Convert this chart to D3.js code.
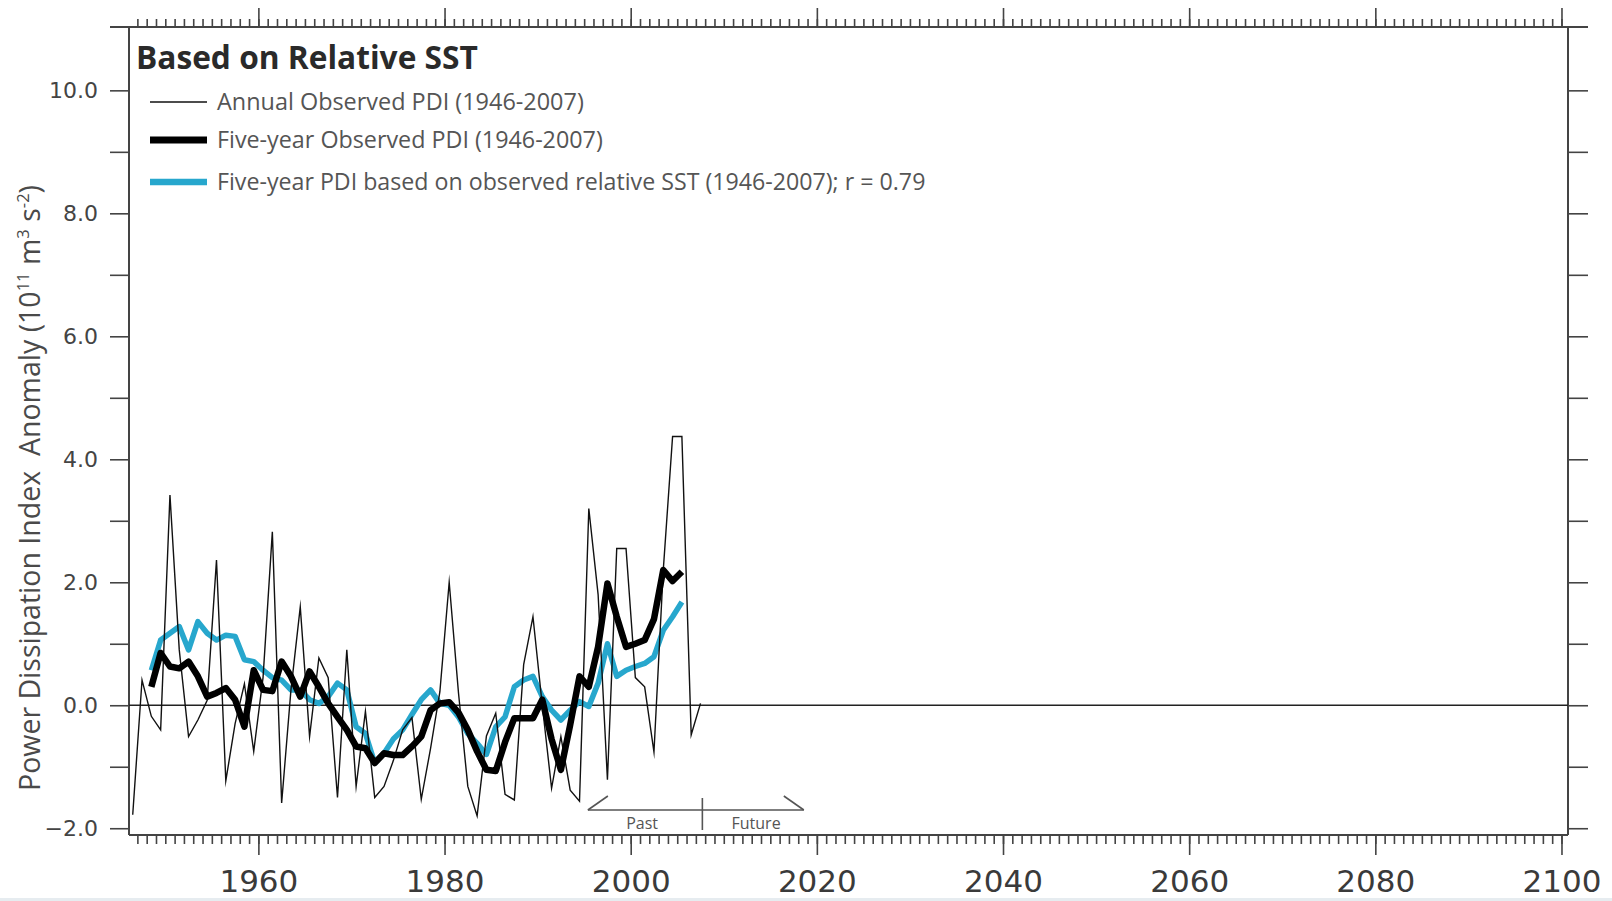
<!DOCTYPE html>
<html>
<head>
<meta charset="utf-8">
<script src="https://cdn.jsdelivr.net/npm/d3@7"></script>
<style>
body { margin: 0; background: #fff; }
svg { display: block; }
</style>
</head>
<body>
<div id="chart"></div>
<script>
// Annual observed PDI anomaly (10^11 m3 s-2), 1946-2007
var annualYears = d3.range(1946, 2008);
var annualPDI = [
    -1.78, 0.41, -0.18, -0.40, 3.42, 0.90, -0.51, -0.24, 0.08, 2.36,
    -1.23, -0.30, 0.35, -0.75, 0.45, 2.82, -1.59, 0.25, 1.60, -0.51,
    0.77, 0.45, -1.50, 0.90, -1.32, -0.10, -1.50, -1.32, -0.90, -0.40,
    -0.20, -1.53, -0.70, 0.22, 2.00, 0.20, -1.32, -1.80, -0.50, -0.13,
    -1.45, -1.54, 0.66, 1.44, 0.00, -1.35, -0.51, -1.38, -1.56, 3.20,
    1.80, -1.21, 2.55, 2.55, 0.45, 0.30, -0.76, 2.20, 4.37, 4.37,
    -0.48, 0.03
];

// Five-year curves, 1948-2005
var smoothYears = d3.range(1948, 2006);
var fiveYearPDI = [
    0.30, 0.85, 0.63, 0.60, 0.71, 0.47, 0.14, 0.20, 0.28, 0.09,
    -0.35, 0.57, 0.25, 0.23, 0.71, 0.47, 0.14, 0.55, 0.30, 0.03,
    -0.19, -0.40, -0.67, -0.70, -0.94, -0.78, -0.81, -0.81, -0.67, -0.51,
    -0.08, 0.03, 0.05, -0.12, -0.40, -0.75, -1.05, -1.07, -0.60, -0.21,
    -0.21, -0.21, 0.09, -0.55, -1.05, -0.32, 0.47, 0.30, 0.95, 1.98,
    1.44, 0.95, 1.00, 1.06, 1.40, 2.20, 2.02, 2.17
];
var sstPDI = [
    0.57, 1.06, 1.17, 1.28, 0.90, 1.36, 1.17, 1.06, 1.14, 1.12,
    0.74, 0.71, 0.57, 0.45, 0.41, 0.25, 0.25, 0.09, 0.03, 0.14,
    0.36, 0.25, -0.35, -0.46, -0.94, -0.78, -0.55, -0.40, -0.15, 0.09,
    0.25, 0.03, 0.00, -0.19, -0.46, -0.62, -0.80, -0.35, -0.19, 0.30,
    0.41, 0.47, 0.14, -0.08, -0.24, -0.08, 0.06, -0.02, 0.36, 1.00,
    0.47, 0.57, 0.63, 0.68, 0.79, 1.22, 1.44, 1.68
];

var yTicks = d3.range(-2, 11);
var xMinorTicks = d3.range(1947, 2101);
var xMajorTicks = [1960, 1980, 2000, 2020, 2040, 2060, 2080, 2100];

var titleText = "Based on Relative SST";
var legendLabels = [
    "Annual Observed PDI (1946-2007)",
    "Five-year Observed PDI (1946-2007)",
    "Five-year PDI based on observed relative SST (1946-2007); r = 0.79"
];

// past / future marker (years)
var pastStart = 1995.4, nowYear = 2007.7, futureEnd = 2018.6;

var W = 1612, H = 901;
var plotL = 129, plotR = 1568, plotT = 27, plotB = 835;
var cyan = "#27a7cd";
var axisColor = "#444";

var svg = d3.select("#chart").append("svg")
    .attr("width", W)
    .attr("height", H);

svg.append("rect").attr("width", W).attr("height", H).attr("fill", "#fff");

var x = d3.scaleLinear().domain([1946.1, 2100.7]).range([plotL, plotR]);
var y = d3.scaleLinear().domain([-2.11, 11.03]).range([plotB, plotT]);

function styleAxis(g) {
    g.select(".domain").remove();
    g.selectAll(".tick line").attr("stroke", axisColor).attr("stroke-width", 1.6);
}

// left axis
svg.append("g")
    .attr("transform", "translate(" + plotL + ",0)")
    .call(d3.axisLeft(y).tickValues(yTicks).tickSize(19).tickPadding(12)
        .tickFormat(function(d) { return d % 2 === 0 ? d3.format(".1f")(d) : ""; }))
    .call(styleAxis)
    .selectAll("text")
    .attr("font-family", "DejaVu Sans, Verdana, sans-serif")
    .attr("font-size", 22)
    .attr("fill", "#444");

// right axis
svg.append("g")
    .attr("transform", "translate(" + plotR + ",0)")
    .call(d3.axisRight(y).tickValues(yTicks).tickSize(20).tickFormat(""))
    .call(styleAxis);

// bottom axis, minor and major
svg.append("g")
    .attr("transform", "translate(0," + plotB + ")")
    .call(d3.axisBottom(x).tickValues(xMinorTicks).tickSize(9).tickFormat(""))
    .call(styleAxis);
svg.append("g")
    .attr("transform", "translate(0," + plotB + ")")
    .call(d3.axisBottom(x).tickValues(xMajorTicks).tickSize(20).tickPadding(15)
        .tickFormat(d3.format("d")))
    .call(styleAxis)
    .selectAll("text")
    .attr("font-family", "DejaVu Sans, Verdana, sans-serif")
    .attr("font-size", 31)
    .attr("fill", "#3a3a3a");

// top axis, minor and major
svg.append("g")
    .attr("transform", "translate(0," + plotT + ")")
    .call(d3.axisTop(x).tickValues(xMinorTicks).tickSize(8).tickFormat(""))
    .call(styleAxis);
svg.append("g")
    .attr("transform", "translate(0," + plotT + ")")
    .call(d3.axisTop(x).tickValues(xMajorTicks).tickSize(19).tickFormat(""))
    .call(styleAxis);

// frame
var frame = svg.append("g").attr("stroke", axisColor).attr("stroke-width", 2);
frame.append("line").attr("x1", plotL).attr("x2", plotL).attr("y1", plotT).attr("y2", plotB);
frame.append("line").attr("x1", plotR).attr("x2", plotR).attr("y1", plotT).attr("y2", plotB);
frame.append("line").attr("x1", plotL).attr("x2", plotR).attr("y1", plotB).attr("y2", plotB);
frame.append("line").attr("x1", plotL - 19).attr("x2", plotR + 20).attr("y1", plotT).attr("y2", plotT);

// zero line
svg.append("line")
    .attr("x1", plotL).attr("x2", plotR)
    .attr("y1", y(0)).attr("y2", y(0))
    .attr("stroke", "#222").attr("stroke-width", 1.4);

// series (plotted at mid-year)
var annualLine = d3.line()
    .x(function(d, i) { return x(annualYears[i] + 0.5); })
    .y(function(d) { return y(d); });
var smoothLine = d3.line()
    .x(function(d, i) { return x(smoothYears[i] + 0.5); })
    .y(function(d) { return y(d); });

svg.append("path")
    .datum(sstPDI)
    .attr("d", smoothLine)
    .attr("fill", "none")
    .attr("stroke", cyan)
    .attr("stroke-width", 5.5)
    .attr("stroke-linejoin", "round");

svg.append("path")
    .datum(annualPDI)
    .attr("d", annualLine)
    .attr("fill", "none")
    .attr("stroke", "#111")
    .attr("stroke-width", 1.4)
    .attr("stroke-miterlimit", 12);

svg.append("path")
    .datum(fiveYearPDI)
    .attr("d", smoothLine)
    .attr("fill", "none")
    .attr("stroke", "#000")
    .attr("stroke-width", 6.5)
    .attr("stroke-linejoin", "round");

// fit a text element to a given width by adjusting its font size
function fitWidth(sel, width) {
    var node = sel.node();
    var fs = +sel.attr("font-size");
    var w = node.getComputedTextLength();
    if (w > 0) sel.attr("font-size", fs * width / w);
}

// title
var title = svg.append("text")
    .attr("x", 136).attr("y", 69)
    .attr("font-family", "Open Sans, Noto Sans, sans-serif")
    .attr("font-weight", "bold")
    .attr("font-size", 28)
    .attr("fill", "#2a2a2a")
    .text(titleText);
fitWidth(title, 342);

// legend
var legendRows = [
    { y: 102, color: "#111", width: 1.4, textWidth: 367 },
    { y: 140, color: "#000", width: 7, textWidth: 386 },
    { y: 182, color: cyan, width: 6.5, textWidth: 709 }
];
var legend = svg.append("g");
legendRows.forEach(function(r, i) {
    legend.append("line")
        .attr("x1", 150).attr("x2", 207)
        .attr("y1", r.y).attr("y2", r.y)
        .attr("stroke", r.color)
        .attr("stroke-width", r.width);
    var t = legend.append("text")
        .attr("x", 217).attr("y", r.y + 8)
        .attr("font-family", "Open Sans, Noto Sans, sans-serif")
        .attr("font-size", 21)
        .attr("fill", "#555")
        .text(legendLabels[i]);
    fitWidth(t, r.textWidth);
});

// y axis title
var yTitle = svg.append("text")
    .attr("transform", "translate(40,488) rotate(-90)")
    .attr("text-anchor", "middle")
    .attr("font-family", "Open Sans, Noto Sans, sans-serif")
    .attr("fill", "#4a4a4a")
    .style("white-space", "pre");
var baseFs = 24;
function buildYTitle(fs) {
    yTitle.selectAll("*").remove();
    yTitle.attr("font-size", fs);
    var sup = fs * 0.58, up = fs * 0.38;
    yTitle.append("tspan").text("Power Dissipation Index  Anomaly (10");
    yTitle.append("tspan").attr("dy", -up).attr("font-size", sup).text("11");
    yTitle.append("tspan").attr("dy", up).text(" m");
    yTitle.append("tspan").attr("dy", -up).attr("font-size", sup).text("3");
    yTitle.append("tspan").attr("dy", up).text(" s");
    yTitle.append("tspan").attr("dy", -up).attr("font-size", sup).text("-2");
    yTitle.append("tspan").attr("dy", up).text(")");
}
buildYTitle(baseFs);
var yTitleLen = yTitle.node().getComputedTextLength();
if (yTitleLen > 0) buildYTitle(baseFs * 606 / yTitleLen);

// past / future marker
var mark = svg.append("g")
    .attr("stroke", "#555")
    .attr("stroke-width", 1.6)
    .attr("fill", "none");
var my = 810;
mark.append("line").attr("x1", x(pastStart)).attr("x2", x(futureEnd)).attr("y1", my).attr("y2", my);
mark.append("line").attr("x1", x(pastStart)).attr("x2", x(pastStart) + 20).attr("y1", my).attr("y2", my - 14);
mark.append("line").attr("x1", x(futureEnd)).attr("x2", x(futureEnd) - 20).attr("y1", my).attr("y2", my - 14);
mark.append("line").attr("x1", x(nowYear)).attr("x2", x(nowYear)).attr("y1", my - 12).attr("y2", my + 20);

svg.append("text")
    .attr("x", (x(pastStart) + x(nowYear)) / 2 - 3).attr("y", 829)
    .attr("text-anchor", "middle")
    .attr("font-family", "Open Sans, Noto Sans, sans-serif")
    .attr("font-size", 16)
    .attr("fill", "#555")
    .text("Past");
svg.append("text")
    .attr("x", (x(nowYear) + x(futureEnd)) / 2 + 3).attr("y", 829)
    .attr("text-anchor", "middle")
    .attr("font-family", "Open Sans, Noto Sans, sans-serif")
    .attr("font-size", 16)
    .attr("fill", "#555")
    .text("Future");

// thin light strip at the bottom edge of the picture
svg.append("rect")
    .attr("x", 0).attr("y", 898)
    .attr("width", W).attr("height", 3)
    .attr("fill", "#e6ecf0");
</script>
</body>
</html>
